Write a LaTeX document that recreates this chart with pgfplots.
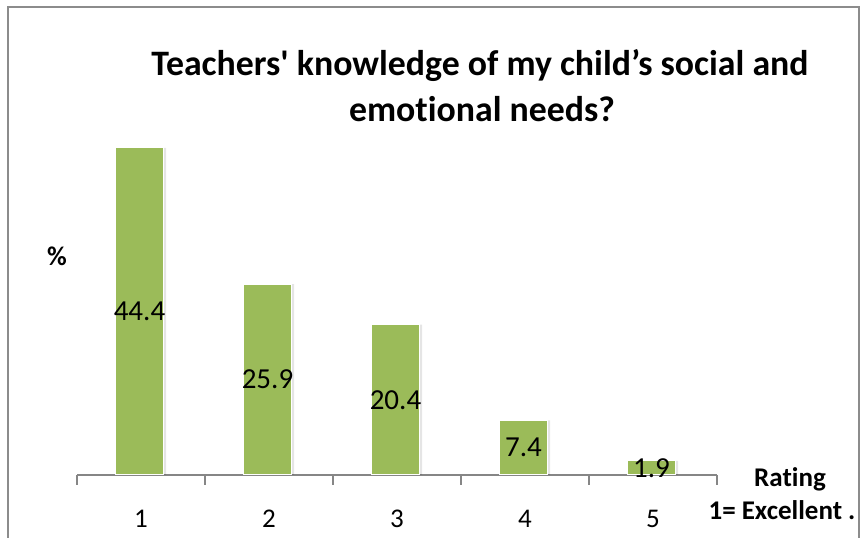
\documentclass[border=0pt]{standalone}
\usepackage{fontspec}
\setmainfont{Carlito}[Ligatures={NoCommon}]
\usepackage{pgfplots}
\pgfplotsset{compat=1.18}
\definecolor{bargreen}{HTML}{9BBB59}
\definecolor{axisgray}{HTML}{868686}
\definecolor{framegray}{HTML}{8C8C8C}

\pgfplotstableread{
x y
1 44.4
2 25.9
3 20.4
4 7.4
5 1.9
}\ratingdata

\pgfplotstableread{
x pos lab
1 22.2 44.4
2 12.95 25.9
3 10.2 20.4
4 3.7 7.4
5 0.95 1.9
}\labeldata

\begin{document}
\begin{tikzpicture}[x=1pt,y=1pt]
\useasboundingbox (0,0) rectangle (865,538);
\begin{scope}
\clip (0,0) rectangle (865,538);
\draw[framegray, line width=2pt] (8,-10) -- (8,531) -- (859,531) -- (859,-10);
\end{scope}
\begin{axis}[
  at={(77pt,63pt)}, anchor=south west,
  scale only axis, width=640pt, height=335.3pt,
  xmin=0.5, xmax=5.5, ymin=0, ymax=45.5,
  hide y axis,
  axis x line=bottom,
  x axis line style={-, axisgray, line width=1.3pt},
  xtick={1,2,3,4,5},
  major tick length=0pt,
  minor xtick={0.5,1.5,2.5,3.5,4.5,5.5},
  minor tick length=10pt,
  tick align=outside,
  minor tick style={axisgray, line width=1.3pt},
  /pgf/number format/assume math mode=true,
  xticklabel style={font=\fontsize{27}{27}\selectfont, anchor=north, inner sep=0pt, yshift=-35pt},
  ytick=\empty,
  clip=false,
]
\addplot[ybar, bar width=48pt, bar shift=-1.5pt+2.5pt, fill=black, fill opacity=0.10, draw=none] table[x=x,y=y] {\ratingdata};
\addplot[ybar, bar width=48pt, bar shift=-1.5pt, fill=bargreen, draw=white, line width=1pt] table[x=x,y=y] {\ratingdata};
\addplot[draw=none, mark=none, nodes near coords, point meta=explicit symbolic,
  nodes near coords style={anchor=center, font=\fontsize{29}{29}\selectfont, text=black, inner sep=0pt, xshift=-1.5pt}]
  table[x=x, y=pos, meta=lab] {\labeldata};
\end{axis}
\node[anchor=base, font=\bfseries\fontsize{35.8}{40}\selectfont] at (480,462) {Teachers\textquotesingle{} knowledge of my child’s social and};
\node[anchor=base, font=\bfseries\fontsize{35.8}{40}\selectfont] at (482,416) {emotional needs?};
\node[anchor=base, font=\bfseries\fontsize{27}{27}\selectfont] at (57,272) {\%};
\node[anchor=base, font=\bfseries\fontsize{27}{27}\selectfont] at (790,51) {Rating};
\node[anchor=base, font=\bfseries\fontsize{27}{27}\selectfont] at (782,18) {1= Excellent .};
\end{tikzpicture}
\end{document}
